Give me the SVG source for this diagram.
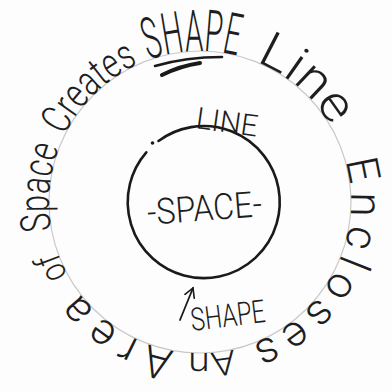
<svg xmlns="http://www.w3.org/2000/svg" width="392" height="392" viewBox="0 0 392 392">
  <style>
    .hand { font-family: Roboto, "Open Sans", "DejaVu Sans", sans-serif; font-weight: 300; fill: #1e1e1e; }
    .guide { fill: none; stroke: #c9c9c9; stroke-width: 1.2; }
    .ink { fill: none; stroke: #1a1a1a; stroke-linecap: round; stroke-linejoin: round; }
  </style>
  <defs>
    <path id="ring" d="M200,51 A151,151 0 1,1 200,353 A151,151 0 1,1 200,51 A151,151 0 1,1 200,353 A151,151 0 1,1 200,51"/>
    <marker id="vhead" viewBox="0 0 12 12" refX="10" refY="6" markerWidth="12" markerHeight="12" markerUnits="userSpaceOnUse" orient="auto">
      <path d="M1,1 L10,6 L1,11" fill="none" stroke="#1a1a1a" stroke-width="1.6" stroke-linecap="round"/>
    </marker>
  </defs>
  <rect width="392" height="392" fill="#fdfdfd"/>

  <g id="guide-circle">
    <circle class="guide" cx="200" cy="202" r="151"/>
  </g>

  <g id="outer-sentence" class="hand">
    <text font-size="50"><textPath href="#ring" startOffset="57" textLength="101" lengthAdjust="spacingAndGlyphs">Line</textPath></text>
    <text font-size="44"><textPath href="#ring" startOffset="195" textLength="226" lengthAdjust="spacing">Encloses</textPath></text>
    <text font-size="34"><textPath href="#ring" startOffset="440" textLength="46" lengthAdjust="spacingAndGlyphs">An</textPath></text>
    <text font-size="44"><textPath href="#ring" startOffset="500" textLength="114" lengthAdjust="spacing">Area</textPath></text>
    <text font-size="36"><textPath href="#ring" startOffset="635" textLength="26" lengthAdjust="spacingAndGlyphs">of</textPath></text>
    <text font-size="42"><textPath href="#ring" startOffset="683" textLength="84" lengthAdjust="spacingAndGlyphs">Space</textPath></text>
    <text font-size="42"><textPath href="#ring" startOffset="780" textLength="105" lengthAdjust="spacingAndGlyphs">Creates</textPath></text>
  </g>

  <g id="title-shape">
    <text class="hand" font-size="58"><textPath href="#ring" startOffset="896" textLength="90" lengthAdjust="spacingAndGlyphs">SHAPE</textPath></text>
    <path class="ink" stroke-width="2.6" d="M155,66 Q186,57 222,57"/>
    <path class="ink" stroke-width="4" d="M162,75 Q180,66 200,63"/>
  </g>

  <g id="space-circle">
    <path class="ink" stroke-width="2.6" d="M158.5,141 A76,76 0 1,1 146.3,152.3"/>
    <circle cx="152.5" cy="143" r="1.8" fill="#1a1a1a"/>
    <text class="hand" x="0" y="0" font-size="36" textLength="115" lengthAdjust="spacingAndGlyphs" transform="translate(148,225) rotate(-4.5)">-SPACE-</text>
  </g>

  <g id="line-label">
    <text class="hand" font-size="30" textLength="62" lengthAdjust="spacingAndGlyphs" transform="translate(195,128) rotate(8)">LINE</text>
  </g>

  <g id="shape-label">
    <text class="hand" font-size="32" textLength="75" lengthAdjust="spacingAndGlyphs" transform="translate(192,331) rotate(-7)">SHAPE</text>
  </g>

  <g id="connectors">
    <line class="ink" stroke-width="1.8" x1="180" y1="320" x2="193" y2="288" marker-end="url(#vhead)"/>
  </g>
</svg>
